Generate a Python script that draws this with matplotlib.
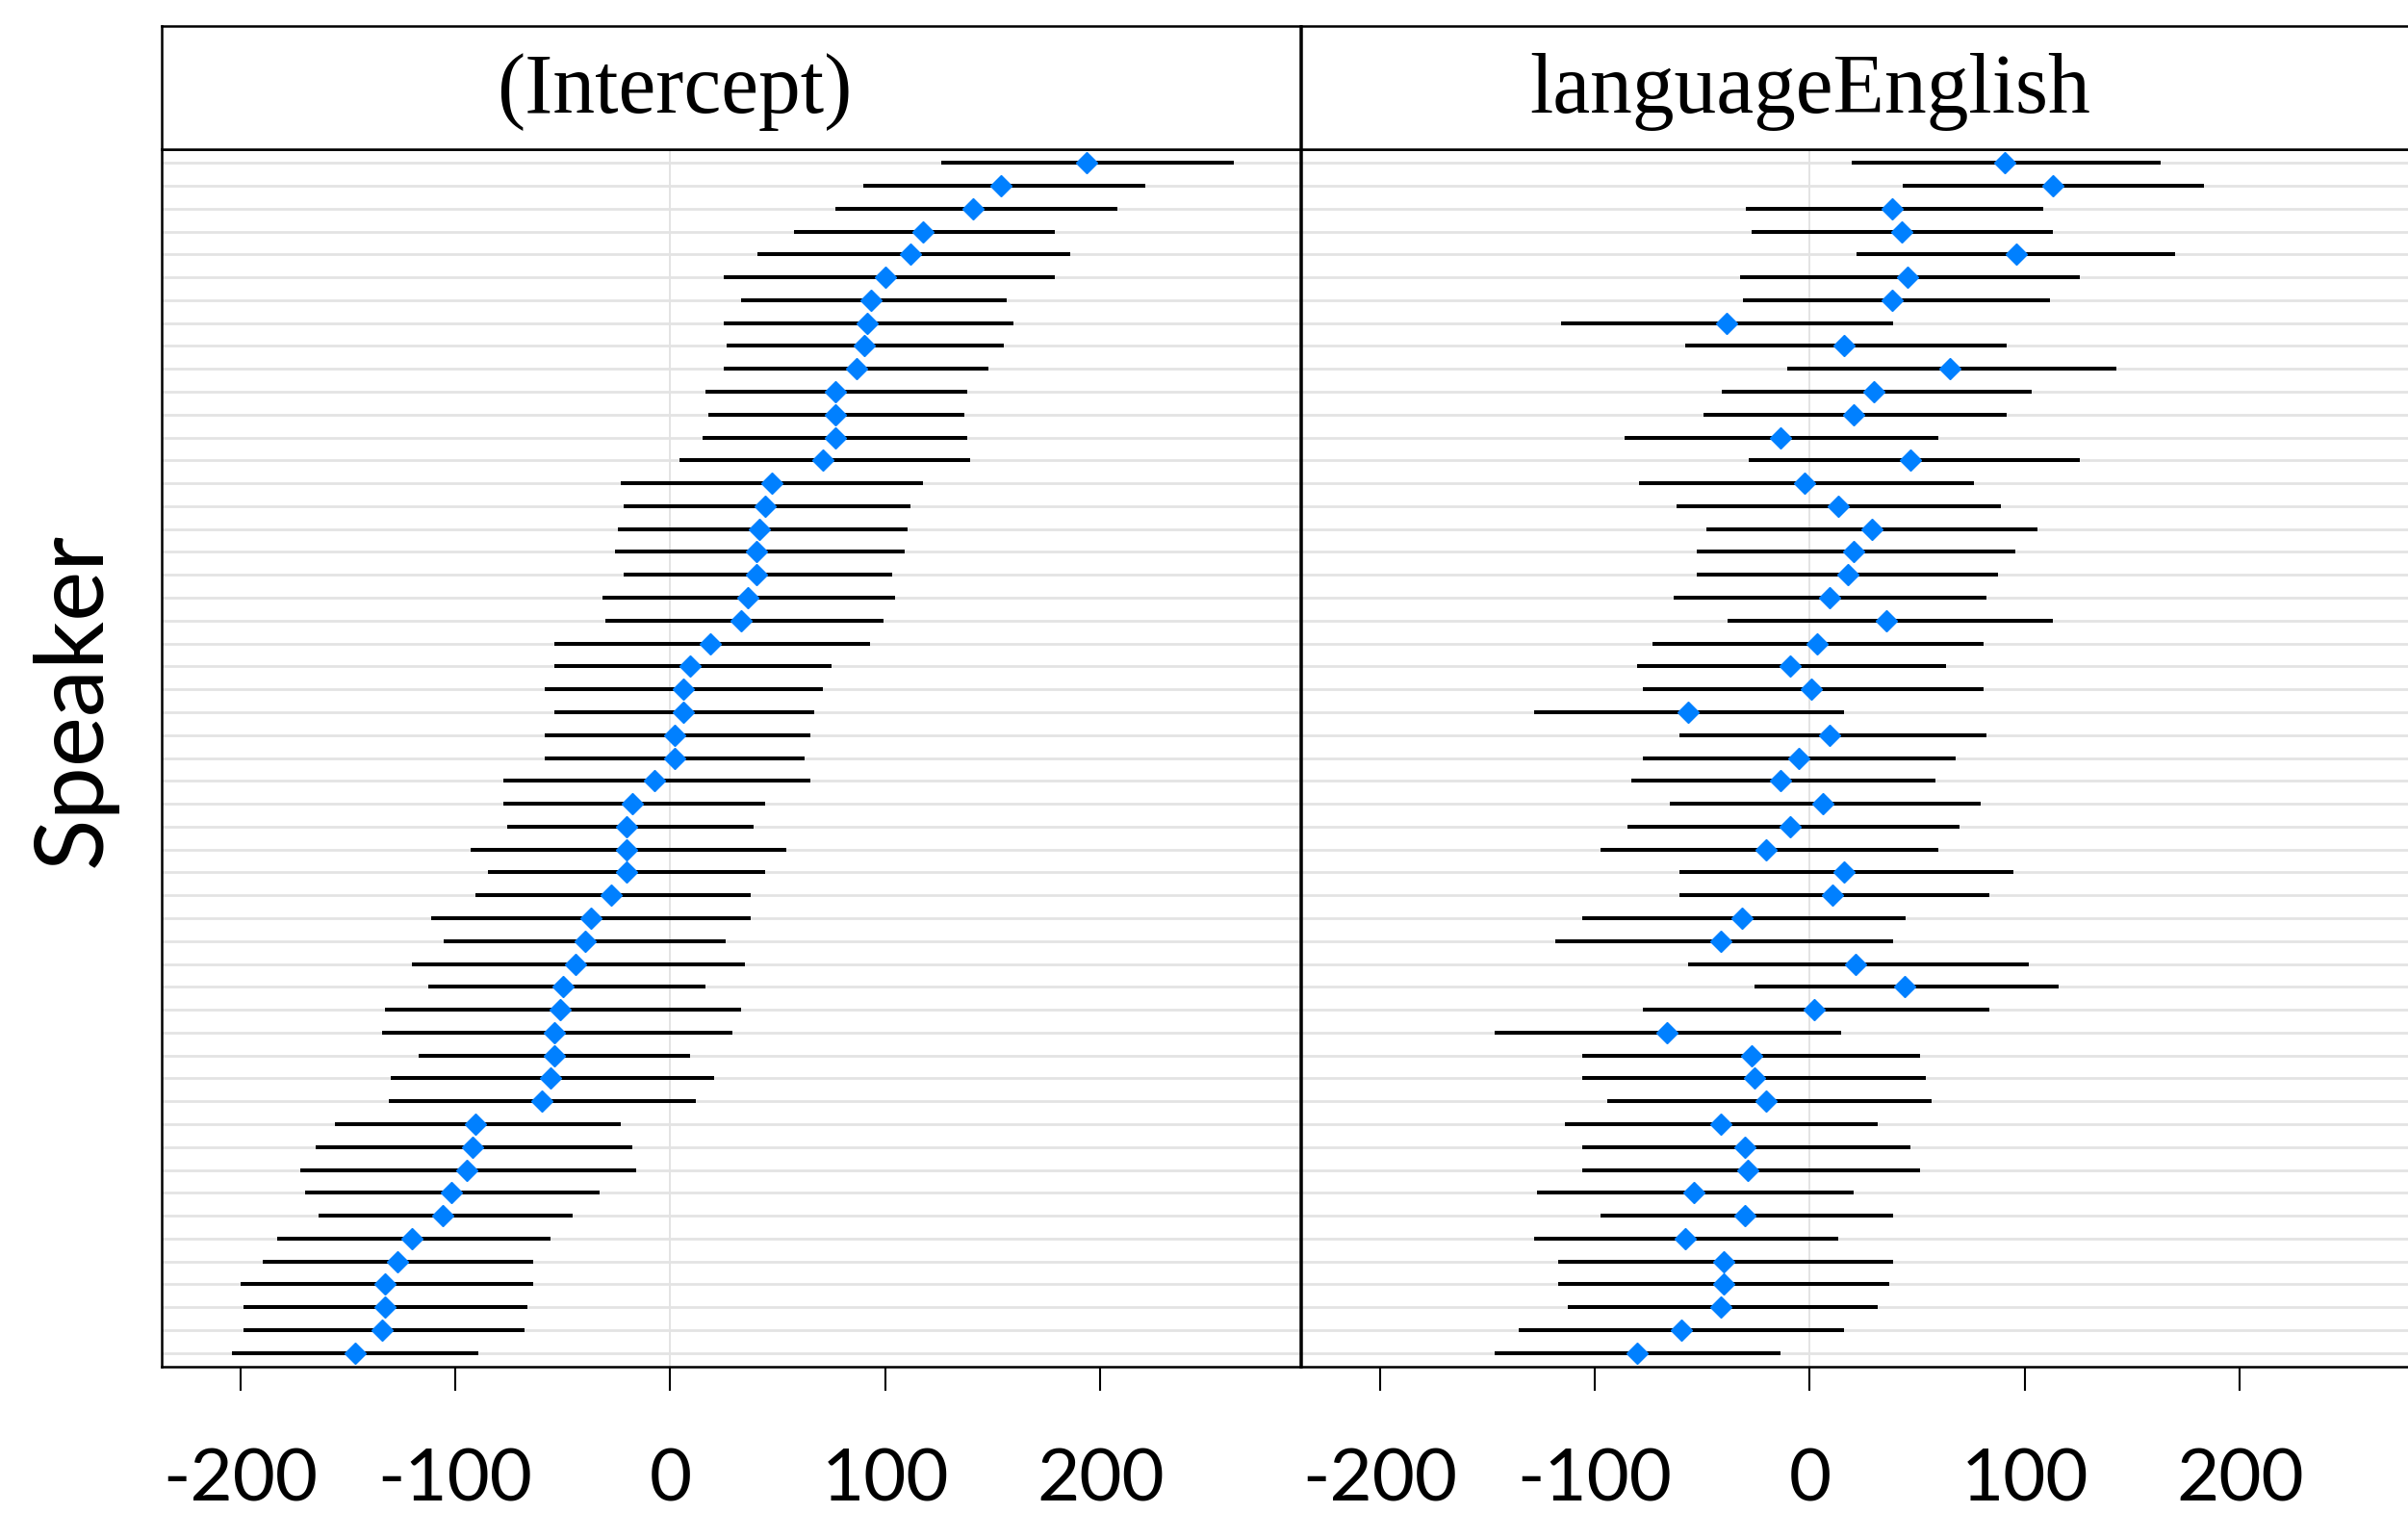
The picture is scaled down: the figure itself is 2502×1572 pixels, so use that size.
import matplotlib
matplotlib.use("Agg")
import matplotlib.pyplot as plt
import numpy as np

# random-effect estimates per speaker, listed top row -> bottom row
panel_titles = ["(Intercept)", "languageEnglish"]
x_ticks = [-200, -100, 0, 100, 200]

icpt_est = [193.5, 154, 141, 117.5, 111.6, 100.3, 93.5, 91.8, 90.4, 86.6,
            76.7, 76.7, 76.7, 70.9, 47.3, 44.2, 41.4, 40, 40, 36,
            32.9, 18.8, 9.2, 6.2, 6.2, 2, 2, -7.5, -17.5, -20.2,
            -20.2, -20.2, -27.4, -37, -39.7, -44.2, -49.7, -51.4, -54.1, -54.1,
            -55.5, -59.6, -90.4, -91.8, -94.5, -101.7, -106, -120, -127, -132.5,
            -132.5, -134, -146.6]
icpt_lo = [126, 90, 77, 57.5, 40.4, 25, 33, 25, 26.4, 25,
           16.4, 17.8, 15, 4.1, -23, -21.6, -24.3, -25.7, -21.6, -31.5,
           -30, -53.8, -53.8, -58.2, -53.8, -58.2, -58.2, -77.4, -77.4, -76,
           -93, -84.6, -90.4, -111, -105.5, -120, -112.7, -132.5, -134, -116.8,
           -129.8, -131, -156, -164.7, -172, -170, -163.4, -183, -189.7, -199.7,
           -198.3, -198.3, -204]
icpt_hi = [262, 221, 208, 179, 186, 179, 156.5, 159.6, 155, 148,
           138, 137, 138, 139.7, 117.5, 111.6, 110.3, 109, 103, 104.5,
           99, 93, 75, 70.9, 66.8, 65.4, 62.3, 65.4, 44.2, 38.7,
           53.8, 44.2, 37.3, 37.3, 26, 34.6, 16.4, 32.9, 28.8, 9.2,
           20.5, 12, -23, -17.5, -15.8, -32.9, -45.5, -55.5, -63.7, -63.7,
           -66.4, -67.8, -89.4]

lang_est = [90.5, 113, 38.4, 42.8, 96.1, 45.7, 38.4, -38.8, 15.9, 65,
            29.8, 20.2, -13.6, 47, -2.3, 13.3, 28.8, 20.2, 17.6, 9.3,
            35.8, 3.6, -9.3, 0.7, -56.7, 9.3, -5, -13.6, 6.3, -9.3,
            -20.2, 15.9, 10.6, -31.5, -41.4, 21.5, 44.1, 2, -66.6, -27.2,
            -25.9, -20.2, -41.4, -30.2, -28.8, -54, -30.2, -58, -40.1, -40.1,
            -41.4, -59.7, -80.5]
lang_lo = [19.6, 43.1, -29.8, -27.2, 21.9, -32.5, -31.2, -115.7, -58, -10.3,
           -41.1, -49.4, -86.2, -28.5, -79.2, -62, -48, -52.4, -52.4, -63.3,
           -38.4, -73.3, -80.5, -77.6, -128.3, -60.7, -77.6, -83.2, -65, -84.9,
           -97.4, -60.7, -60.7, -105.7, -118.3, -56.7, -25.9, -77.6, -146.5, -105.7,
           -105.7, -94.1, -114, -105.7, -105.7, -127, -97.4, -128.3, -117, -117,
           -112.7, -135.2, -146.5]
lang_hi = [163.4, 183.3, 108.4, 113, 170, 125.6, 111.7, 38.8, 91.8, 142.5,
           103, 91.8, 59.7, 125.6, 76.2, 88.8, 105.7, 95.8, 87.5, 82.2,
           113, 80.9, 63.6, 80.9, 15.9, 82.2, 67.9, 58.3, 79.5, 69.6,
           59.7, 94.5, 83.5, 44.4, 38.8, 101.8, 115.7, 83.5, 14.6, 51.4,
           54, 56.7, 31.8, 47, 51.4, 20.2, 38.8, 13.3, 38.8, 36.8,
           31.8, 15.9, -13.6]

panels = [(icpt_est, icpt_lo, icpt_hi), (lang_est, lang_lo, lang_hi)]

W, H, DPI = 2502, 1572, 100
fig = plt.figure(figsize=(W / DPI, H / DPI), dpi=DPI)

dot_col = "#0080ff"
grid_col = "#e3e3e3"
xlim = (-236.5, 293)

# panel geometry in pixels (right panel runs off the right edge, as in the source)
px_left = [168, 1352]
px_w = 1183
plot_top, plot_bot = 155, 1420
strip_top = 27

for k, (est, lo, hi) in enumerate(panels):
    n = len(est)
    y = np.arange(n, 0, -1)
    left = px_left[k] / W
    ax = fig.add_axes([left, 1 - plot_bot / H, px_w / W, (plot_bot - plot_top) / H])
    for yy in y:
        ax.axhline(yy, color=grid_col, lw=2.0, zorder=1)
    ax.axvline(0, color=grid_col, lw=1.4, zorder=1)
    ax.hlines(y, lo, hi, color="black", lw=2.9, zorder=2)
    ax.plot(est, y, ls="none", marker="D", ms=11, color=dot_col,
            mec=dot_col, zorder=3)
    ax.set_xlim(*xlim)
    ax.set_ylim(0.4, n + 0.6)
    ax.set_yticks([])
    ax.set_xticks(x_ticks)
    ax.set_xticklabels([str(t) for t in x_ticks], family="Lato", fontsize=55)
    ax.tick_params(axis="x", direction="out", length=18, width=1.5, pad=42)
    for s in ax.spines.values():
        s.set_linewidth(1.8)

    sax = fig.add_axes([left, 1 - plot_top / H, px_w / W, (plot_top - strip_top) / H])
    sax.set_xlim(*xlim)
    sax.set_ylim(0, 1)
    sax.set_xticks([])
    sax.set_yticks([])
    for s in sax.spines.values():
        s.set_linewidth(1.8)
    sax.text(2 if k == 0 else 0, 0.30, panel_titles[k], ha="center", va="baseline",
             family="Liberation Serif", fontsize=63)

fig.text(77 / W, 1 - 727 / H, "Speaker", rotation=90, ha="center", va="center",
         family="Lato", fontsize=71)

fig.savefig("out.png", dpi=DPI)
